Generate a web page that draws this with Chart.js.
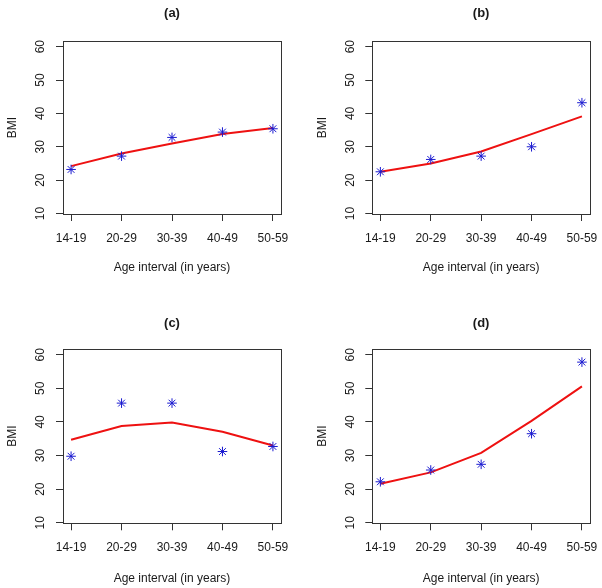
<!DOCTYPE html>
<html lang="en">
<head>
<meta charset="UTF-8">
<title>BMI by age interval</title>
<script src="https://cdn.jsdelivr.net/npm/chart.js"></script>
<style>
  html, body { margin: 0; padding: 0; background: #fff; }
  .page { position: relative; width: 602px; height: 588px; }
  .panel { position: absolute; }
</style>
</head>
<body>
<div class="page">
  <div class="panel" style="left:0;top:0"><canvas id="chartA" width="301" height="294"></canvas></div>
  <div class="panel" style="left:301px;top:0"><canvas id="chartB" width="301" height="294"></canvas></div>
  <div class="panel" style="left:0;top:294px"><canvas id="chartC" width="301" height="294"></canvas></div>
  <div class="panel" style="left:301px;top:294px"><canvas id="chartD" width="301" height="294"></canvas></div>
</div>
<script>
// categories and tick labels
const ageGroups = ['14-19', '20-29', '30-39', '40-49', '50-59'];
const bmiTicks = [10, 20, 30, 40, 50, 60];

// observed BMI (blue stars) and fitted curve (red line), one pair per panel
const observedA = [23.2, 27.2, 32.8, 34.4, 35.4];
const fittedA   = [24.2, 28.0, 31.0, 33.8, 35.6];

const observedB = [22.5, 26.2, 27.2, 30.0, 43.2];
const fittedB   = [22.5, 25.0, 28.6, 33.8, 39.1];

const observedC = [29.8, 45.6, 45.6, 31.2, 32.7];
const fittedC   = [34.7, 38.8, 39.8, 37.1, 33.0];

const observedD = [22.2, 25.7, 27.4, 36.5, 57.8];
const fittedD   = [21.6, 25.0, 30.8, 40.3, 50.6];

const fontFamily = '"Liberation Sans", Arial, Helvetica, sans-serif';
const textColor = '#1a1a1a';
const axisColor = '#333';

// box around plot area + rotated y tick labels (R style)
const rStylePlugin = {
  id: 'rStyle',
  afterDraw(chart) {
    const { ctx, chartArea, scales } = chart;
    ctx.save();
    ctx.strokeStyle = axisColor;
    ctx.lineWidth = 1;
    ctx.strokeRect(Math.round(chartArea.left) + 0.5, Math.round(chartArea.top) + 0.5,
      Math.round(chartArea.right - chartArea.left), Math.round(chartArea.bottom - chartArea.top));

    const y = scales.y;
    ctx.fillStyle = textColor;
    ctx.font = '12px ' + fontFamily;
    ctx.textAlign = 'center';
    ctx.textBaseline = 'middle';
    y.ticks.forEach(t => {
      const py = y.getPixelForValue(t.value);
      ctx.save();
      ctx.translate(chartArea.left - 22, py);
      ctx.rotate(-Math.PI / 2);
      ctx.fillText(String(t.value), 0, 0);
      ctx.restore();
    });
    ctx.restore();
  }
};

function toPoints(values) {
  return values.map((v, i) => ({ x: i + 1, y: v }));
}

// lay: measured layout for each panel
function makePanel(id, title, observed, fitted, lay) {
  new Chart(document.getElementById(id), {
    type: 'line',
    data: {
      datasets: [
        {
          label: 'Observed',
          data: toPoints(observed),
          showLine: false,
          pointStyle: 'star',
          pointRadius: 4.8,
          pointBorderWidth: 1,
          pointBorderColor: '#1a1ad0',
          pointBackgroundColor: '#1a1ad0',
          order: 0
        },
        {
          label: 'Fitted',
          data: toPoints(fitted),
          borderColor: '#ee1111',
          borderWidth: 2,
          pointRadius: 0,
          tension: 0,
          fill: false,
          order: 1
        }
      ]
    },
    options: {
      responsive: false,
      animation: false,
      devicePixelRatio: 1,
      layout: { padding: { left: 0, right: lay.right, top: 0, bottom: 0 } },
      plugins: {
        legend: { display: false },
        tooltip: { enabled: false },
        title: {
          display: true,
          text: title,
          fullSize: false,
          color: textColor,
          font: { family: fontFamily, size: 13, weight: 'bold' },
          padding: { top: lay.titleTop, bottom: lay.titleBottom }
        }
      },
      scales: {
        x: {
          type: 'linear',
          min: 0.84,
          max: 5.16,
          afterBuildTicks: s => { s.ticks = ageGroups.map((_, i) => ({ value: i + 1 })); },
          afterFit: s => { s.height = lay.xHeight; s.paddingLeft = 0; s.paddingRight = 0; },
          ticks: {
            callback: v => ageGroups[v - 1],
            autoSkip: false,
            maxRotation: 0,
            color: textColor,
            padding: lay.xTickPad,
            font: { family: fontFamily, size: 12 }
          },
          grid: { drawOnChartArea: false, drawTicks: true, tickLength: 7, color: axisColor },
          border: { display: false },
          title: {
            display: true,
            text: 'Age interval (in years)',
            color: textColor,
            font: { family: fontFamily, size: 12 },
            padding: { top: 0, bottom: lay.xTitleBottom }
          }
        },
        y: {
          type: 'linear',
          min: 9.85,
          max: 61.7,
          afterBuildTicks: s => { s.ticks = bmiTicks.map(v => ({ value: v })); },
          afterFit: s => { s.width = lay.yWidth; s.paddingTop = 0; s.paddingBottom = 0; },
          ticks: { display: false },
          grid: { drawOnChartArea: false, drawTicks: true, tickLength: 7, color: axisColor },
          border: { display: false },
          title: {
            display: true,
            text: 'BMI',
            color: textColor,
            font: { family: fontFamily, size: 12 },
            padding: { top: lay.yTitleTop, bottom: 0 }
          }
        }
      }
    },
    plugins: [rStylePlugin]
  });
}

const topRow = { titleTop: 6, titleBottom: 19.4, xHeight: 80, xTickPad: 10, xTitleBottom: 19 };
const bottomRow = { titleTop: 21.5, titleBottom: 17.9, xHeight: 64.7, xTickPad: 10.5, xTitleBottom: 2.5 };

makePanel('chartA', '(a)', observedA, fittedA, Object.assign({ yWidth: 63, right: 20, yTitleTop: 5 }, topRow));
makePanel('chartB', '(b)', observedB, fittedB, Object.assign({ yWidth: 71.3, right: 12, yTitleTop: 14 }, topRow));
makePanel('chartC', '(c)', observedC, fittedC, Object.assign({ yWidth: 63, right: 20, yTitleTop: 5 }, bottomRow));
makePanel('chartD', '(d)', observedD, fittedD, Object.assign({ yWidth: 71.3, right: 12, yTitleTop: 14 }, bottomRow));
</script>
</body>
</html>
